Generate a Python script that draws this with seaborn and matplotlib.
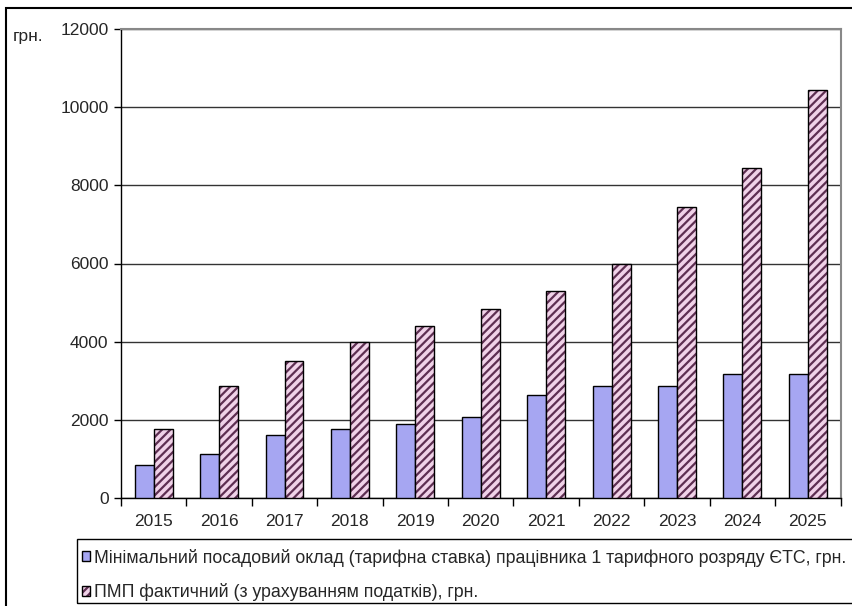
import matplotlib
matplotlib.use("Agg")
import matplotlib.pyplot as plt
import matplotlib.colors as mcolors
from matplotlib.patches import Rectangle
import seaborn as sns
import pandas as pd

years = ["2015", "2016", "2017", "2018", "2019", "2020", "2021", "2022", "2023", "2024", "2025"]
min_salary = [850, 1110, 1600, 1760, 1900, 2080, 2640, 2860, 2860, 3160, 3160]
pmp_actual = [1755, 2870, 3510, 3990, 4400, 4845, 5300, 6000, 7460, 8440, 10450]
series_names = [
    "Мінімальний посадовий оклад (тарифна ставка) працівника 1 тарифного розряду ЄТС, грн.",
    "ПМП фактичний (з урахуванням податків), грн.",
]
y_ticks = [0, 2000, 4000, 6000, 8000, 10000, 12000]
unit_label = "грн."

df = pd.DataFrame({
    "year": years * 2,
    "value": min_salary + pmp_actual,
    "series": [series_names[0]] * len(years) + [series_names[1]] * len(years),
})

sns.set_theme(style="white")
plt.rcParams["font.family"] = ["Liberation Sans", "DejaVu Sans"]
plt.rcParams["hatch.linewidth"] = 1.6

W, H = 853, 606
fig = plt.figure(figsize=(W / 100, H / 100), dpi=100)
ax = fig.add_axes([121 / W, 1 - 497.7 / H, (840.5 - 121) / W, (497.7 - 29.3) / H])

blue = "#9999ff"
pink = "#f5cdea"
plum = "#5e2f52"

sns.barplot(data=df, x="year", y="value", hue="series", hue_order=series_names,
            palette=[blue, pink], width=0.58, gap=0, dodge=True, legend=False,
            edgecolor="black", linewidth=1.0, ax=ax, zorder=3)

for p in ax.containers[1].patches:
    p.set_hatch("////")
    p._hatch_color = mcolors.to_rgba(plum)

ax.set_ylim(0, 12000)
ax.set_xlim(-0.5, len(years) - 0.5)
ax.set_yticks(y_ticks)
ax.set_yticklabels([str(v) for v in y_ticks])
ax.set_xlabel("")
ax.set_ylabel("")
ax.yaxis.grid(True, color="#333333", linewidth=1.0)
ax.set_axisbelow(True)

for side in ["left", "bottom"]:
    ax.spines[side].set_color("black")
    ax.spines[side].set_linewidth(1.0)
for side in ["top", "right"]:
    ax.spines[side].set_color("#888888")
    ax.spines[side].set_linewidth(1.5)

ax.tick_params(axis="y", which="major", direction="out", length=5, width=1,
               color="black", labelsize=12.5, pad=4, left=True)
ax.tick_params(axis="x", which="major", length=0, labelsize=12.5, pad=12)
ax.set_xticks([i - 0.5 for i in range(len(years) + 1)], minor=True)
ax.tick_params(axis="x", which="minor", direction="out", length=6, width=1,
               color="black", bottom=True)

fig.text(13 / W, 1 - 36 / H, unit_label, fontsize=12.5, va="center", ha="left")

# outer chart frame
fig.patches.append(Rectangle((6 / W, -0.05), 2.0, 1 - 8 / H + 0.05,
                             transform=fig.transFigure, fill=False,
                             edgecolor="black", linewidth=1.5))
# legend frame
fig.patches.append(Rectangle((77 / W, 1 - 603 / H), 2.0, (603 - 539) / H,
                             transform=fig.transFigure, fill=False,
                             edgecolor="black", linewidth=1.0))

handles = [ax.containers[0].patches[0], ax.containers[1].patches[0]]
leg = fig.legend(handles, series_names, loc="upper left",
                 bbox_to_anchor=(78 / W, 1 - 545 / H), bbox_transform=fig.transFigure,
                 frameon=False, fontsize=12.75, handlelength=0.45, handleheight=0.45,
                 handletextpad=0.25, labelspacing=0.95, borderaxespad=0, borderpad=0.2)

fig.savefig("out.png", dpi=100)
